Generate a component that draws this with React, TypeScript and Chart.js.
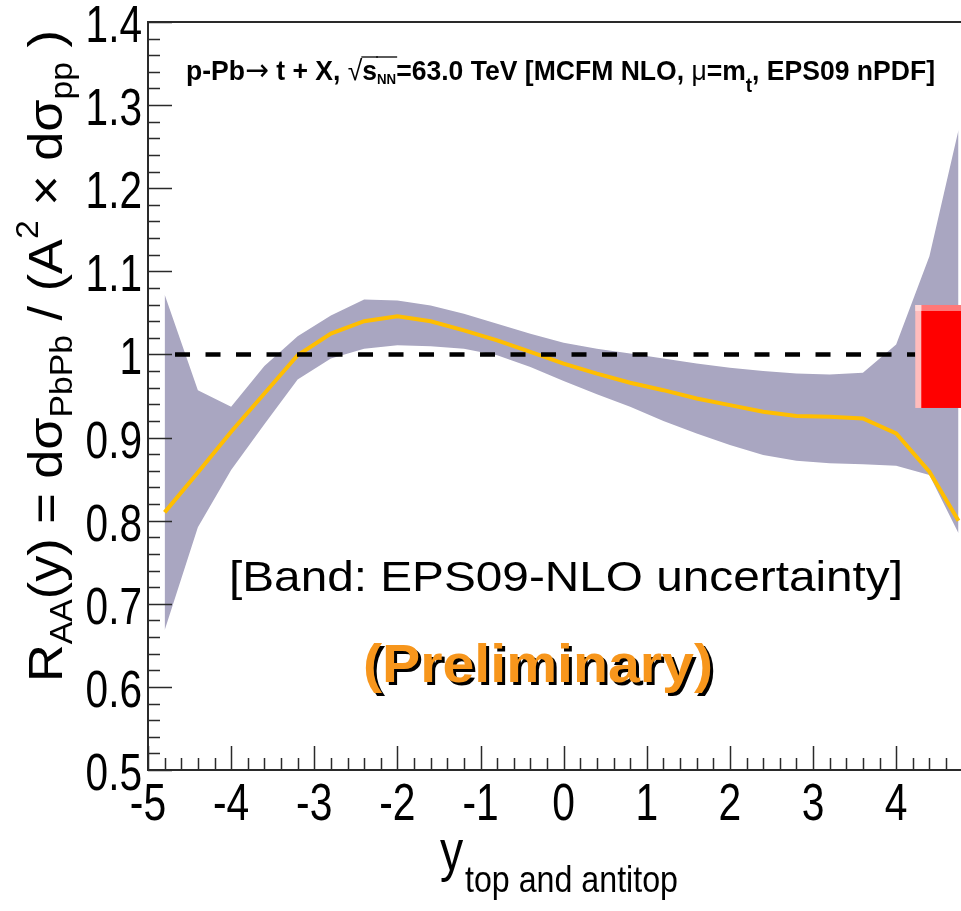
import { useEffect, useRef } from 'react';
import { Chart, registerables } from 'chart.js';

Chart.register(...registerables);

// ---- data ----
const rapidity = [-4.8, -4.4, -4.0, -3.6, -3.2, -2.8, -2.4, -2.0, -1.6, -1.2, -0.8, -0.4, 0.0, 0.4, 0.8, 1.2, 1.6, 2.0, 2.4, 2.8, 3.2, 3.6, 4.0, 4.4, 4.75];
const central = [0.810, 0.858, 0.907, 0.953, 0.999, 1.025, 1.040, 1.046, 1.040, 1.029, 1.017, 1.003, 0.989, 0.977, 0.966, 0.957, 0.947, 0.939, 0.931, 0.926, 0.925, 0.923, 0.905, 0.859, 0.800];
const bandUpper = [1.072, 0.957, 0.937, 0.986, 1.022, 1.047, 1.066, 1.065, 1.059, 1.049, 1.037, 1.025, 1.014, 1.007, 1.001, 0.995, 0.989, 0.984, 0.980, 0.977, 0.976, 0.978, 1.012, 1.118, 1.270];
const bandLower = [0.668, 0.792, 0.861, 0.916, 0.970, 0.995, 1.007, 1.011, 1.010, 1.007, 0.999, 0.985, 0.968, 0.952, 0.937, 0.920, 0.905, 0.891, 0.879, 0.872, 0.869, 0.868, 0.866, 0.855, 0.785];
const refLineX = [-4.675, 4.23];
const refLineY = [1.0, 1.0];
const normBoxX = [4.23, 4.78];
const normBoxY = [0.9356, 1.0595];
const xTickValues = [-5, -4, -3, -2, -1, 0, 1, 2, 3, 4];
const xTickLabels = ['-5', '-4', '-3', '-2', '-1', '0', '1', '2', '3', '4'];
const yTickValues = [0.5, 0.6, 0.7, 0.8, 0.9, 1.0, 1.1, 1.2, 1.3, 1.4];
const yTickLabels = ['0.5', '0.6', '0.7', '0.8', '0.9', '1', '1.1', '1.2', '1.3', '1.4'];
const xRange = [-5, 4.78];
const yRange = [0.5, 1.4];

const FAM = '"Liberation Sans", Arial, Helvetica, sans-serif';

type Seg = { t: string; s: number; dy?: number; w?: string; over?: boolean; f?: string };

function drawRich(
  ctx: CanvasRenderingContext2D,
  segs: Seg[],
  x: number,
  y: number,
  opts: { target?: number; k?: number; align?: 'left' | 'center' | 'right'; rot?: number; color?: string }
) {
  ctx.save();
  const widths: number[] = [];
  let total = 0;
  for (const s of segs) {
    ctx.font = `${s.w || 'normal'} ${s.s}px ${s.f || FAM}`;
    const w = ctx.measureText(s.t).width;
    widths.push(w);
    total += w;
  }
  const k = opts.target ? opts.target / total : opts.k || 1;
  ctx.translate(x, y);
  if (opts.rot) ctx.rotate(opts.rot);
  ctx.scale(k, 1);
  let cx = 0;
  if (opts.align === 'center') cx = -total / 2;
  if (opts.align === 'right') cx = -total;
  ctx.fillStyle = opts.color || '#000';
  ctx.strokeStyle = opts.color || '#000';
  ctx.textBaseline = 'alphabetic';
  ctx.textAlign = 'left';
  segs.forEach((s, i) => {
    ctx.font = `${s.w || 'normal'} ${s.s}px ${s.f || FAM}`;
    ctx.fillText(s.t, cx, s.dy || 0);
    if (s.over) {
      ctx.lineWidth = 1.3;
      ctx.beginPath();
      ctx.moveTo(cx - 1, -23);
      ctx.lineTo(cx + widths[i] + 1, -23);
      ctx.stroke();
    }
    cx += widths[i];
  });
  ctx.restore();
}

const decorPlugin = {
  id: 'decor',
  afterDatasetsDraw(chart: any) {
    const { ctx, chartArea } = chart;
    const xs = chart.scales.x;
    const ys = chart.scales.y;
    // normalisation box
    const bx0 = xs.getPixelForValue(normBoxX[0]);
    const bx1 = xs.getPixelForValue(normBoxX[1]);
    const by0 = ys.getPixelForValue(normBoxY[1]);
    const by1 = ys.getPixelForValue(normBoxY[0]);
    ctx.save();
    ctx.fillStyle = '#ffbcbc';
    ctx.fillRect(bx0, by0, bx1 - bx0, by1 - by0);
    ctx.fillStyle = '#ff7878';
    ctx.fillRect(bx0 + 6, by0, bx1 - bx0 - 6, 6);
    ctx.fillStyle = '#ffd8d8';
    ctx.fillRect(bx0, by0, 6, 6);
    ctx.fillStyle = '#ff0000';
    ctx.fillRect(bx0 + 6, by0 + 6, bx1 - bx0 - 6, by1 - by0 - 6);
    ctx.restore();

    // frame
    const L = chartArea.left, R = chartArea.right, T = chartArea.top, B = chartArea.bottom;
    ctx.save();
    ctx.strokeStyle = '#2a2a2a';
    ctx.lineWidth = 2;
    ctx.beginPath();
    ctx.moveTo(R + 2, T);
    ctx.lineTo(L, T);
    ctx.lineTo(L, B);
    ctx.lineTo(R + 2, B);
    ctx.stroke();
    // ticks
    ctx.lineWidth = 1.5;
    ctx.beginPath();
    for (let i = 0; i <= 45; i++) {
      const v = yRange[0] + i * 0.02;
      const py = Math.round(ys.getPixelForValue(v)) + 0.5;
      const len = i % 5 === 0 ? 24 : 12;
      ctx.moveTo(L, py);
      ctx.lineTo(L + len, py);
    }
    for (let i = 0; i <= 49; i++) {
      const v = xRange[0] + i * 0.2;
      if (v > xRange[1]) break;
      const px = Math.round(xs.getPixelForValue(v)) + 0.5;
      const len = i % 5 === 0 ? 24 : 12;
      ctx.moveTo(px, B);
      ctx.lineTo(px, B - len);
    }
    ctx.stroke();
    ctx.restore();

    // tick labels
    yTickValues.forEach((v, i) => {
      const py = ys.getPixelForValue(v);
      drawRich(ctx, [{ t: yTickLabels[i], s: 52 }], L - 6, py + 20, { k: 0.78, align: 'right' });
    });
    xTickValues.forEach((v, i) => {
      const px = xs.getPixelForValue(v);
      drawRich(ctx, [{ t: xTickLabels[i], s: 51 }], px, B + 50, { k: 0.8, align: 'center' });
    });

    // x axis title
    drawRich(ctx, [{ t: 'y', s: 58 }], 440, 870, { k: 0.8 });
    drawRich(ctx, [{ t: 'top and antitop', s: 37 }], 465, 892, { k: 0.87 });

    // y axis title (rotated)
    const S = 48, s2 = 31;
    drawRich(
      ctx,
      [
        { t: 'R', s: S },
        { t: 'AA', s: s2, dy: 10 },
        { t: '(y) = d', s: S },
        { t: 'σ', s: S },
        { t: 'PbPb', s: s2, dy: 10 },
        { t: ' / (A', s: S },
        { t: '2', s: s2, dy: -24 },
        { t: ' × d', s: S },
        { t: 'σ', s: S },
        { t: 'pp', s: s2, dy: 10 },
        { t: ' )', s: S },
      ],
      62,
      682,
      { target: 652, rot: -Math.PI / 2 }
    );

    // header
    drawRich(
      ctx,
      [
        { t: 'p-Pb', s: 28, w: 'bold' },
        { t: '→', s: 30, f: '"DejaVu Sans", sans-serif' },
        { t: ' t + X, ', s: 28, w: 'bold' },
        { t: '√', s: 28 },
        { t: 's', s: 28, w: 'bold', over: true },
        { t: 'NN', s: 14, w: 'bold', dy: 4, over: true },
        { t: '=63.0 TeV [MCFM NLO, ', s: 28, w: 'bold' },
        { t: 'μ', s: 28 },
        { t: '=m', s: 28, w: 'bold' },
        { t: 't', s: 20, w: 'bold', dy: 12 },
        { t: ', EPS09 nPDF]', s: 28, w: 'bold' },
      ],
      186,
      80,
      { target: 749 }
    );

    // band annotation
    drawRich(ctx, [{ t: '[Band: EPS09-NLO uncertainty]', s: 42 }], 229, 591, { target: 674 });

    // preliminary with shadow
    drawRich(ctx, [{ t: '(Preliminary)', s: 54, w: 'bold' }], 366, 685, { target: 350, color: '#000' });
    drawRich(ctx, [{ t: '(Preliminary)', s: 54, w: 'bold' }], 363, 682, { target: 350, color: '#f7961c' });
  },
};

export default function App() {
  const ref = useRef<HTMLCanvasElement | null>(null);
  useEffect(() => {
    if (!ref.current) return;
    const pts = (ys: number[]) => rapidity.map((x, i) => ({ x, y: ys[i] }));
    const chart = new Chart(ref.current, {
      type: 'line',
      data: {
        datasets: [
          {
            label: 'ref',
            data: refLineX.map((x, i) => ({ x, y: refLineY[i] })),
            borderColor: '#000',
            borderWidth: 4.5,
            borderDash: [15, 15.5],
            pointRadius: 0,
            fill: false,
          },
          {
            label: 'central',
            data: pts(central),
            borderColor: '#ffbe00',
            borderWidth: 4,
            pointRadius: 0,
            fill: false,
            tension: 0,
          },
          {
            label: 'upper',
            data: pts(bandUpper),
            borderWidth: 0,
            borderColor: 'rgba(0,0,0,0)',
            backgroundColor: '#a9a6c1',
            pointRadius: 0,
            fill: '+1',
            tension: 0,
          },
          {
            label: 'lower',
            data: pts(bandLower),
            borderWidth: 0,
            borderColor: 'rgba(0,0,0,0)',
            pointRadius: 0,
            fill: false,
            tension: 0,
          },
        ],
      },
      options: {
        animation: false,
        responsive: false,
        devicePixelRatio: 1,
        layout: { padding: { left: 148, top: 22, right: 0, bottom: 141 } },
        plugins: { legend: { display: false }, tooltip: { enabled: false } },
        scales: {
          x: { type: 'linear', min: xRange[0], max: xRange[1], display: false },
          y: { type: 'linear', min: yRange[0], max: yRange[1], display: false },
        },
      },
      plugins: [decorPlugin],
    });
    return () => chart.destroy();
  }, []);
  return (
    <div style={{ position: 'fixed', left: 0, top: 0, width: 961, height: 911, background: '#fff' }}>
      <canvas ref={ref} width={961} height={911} style={{ width: 961, height: 911, display: 'block' }} />
    </div>
  );
}
